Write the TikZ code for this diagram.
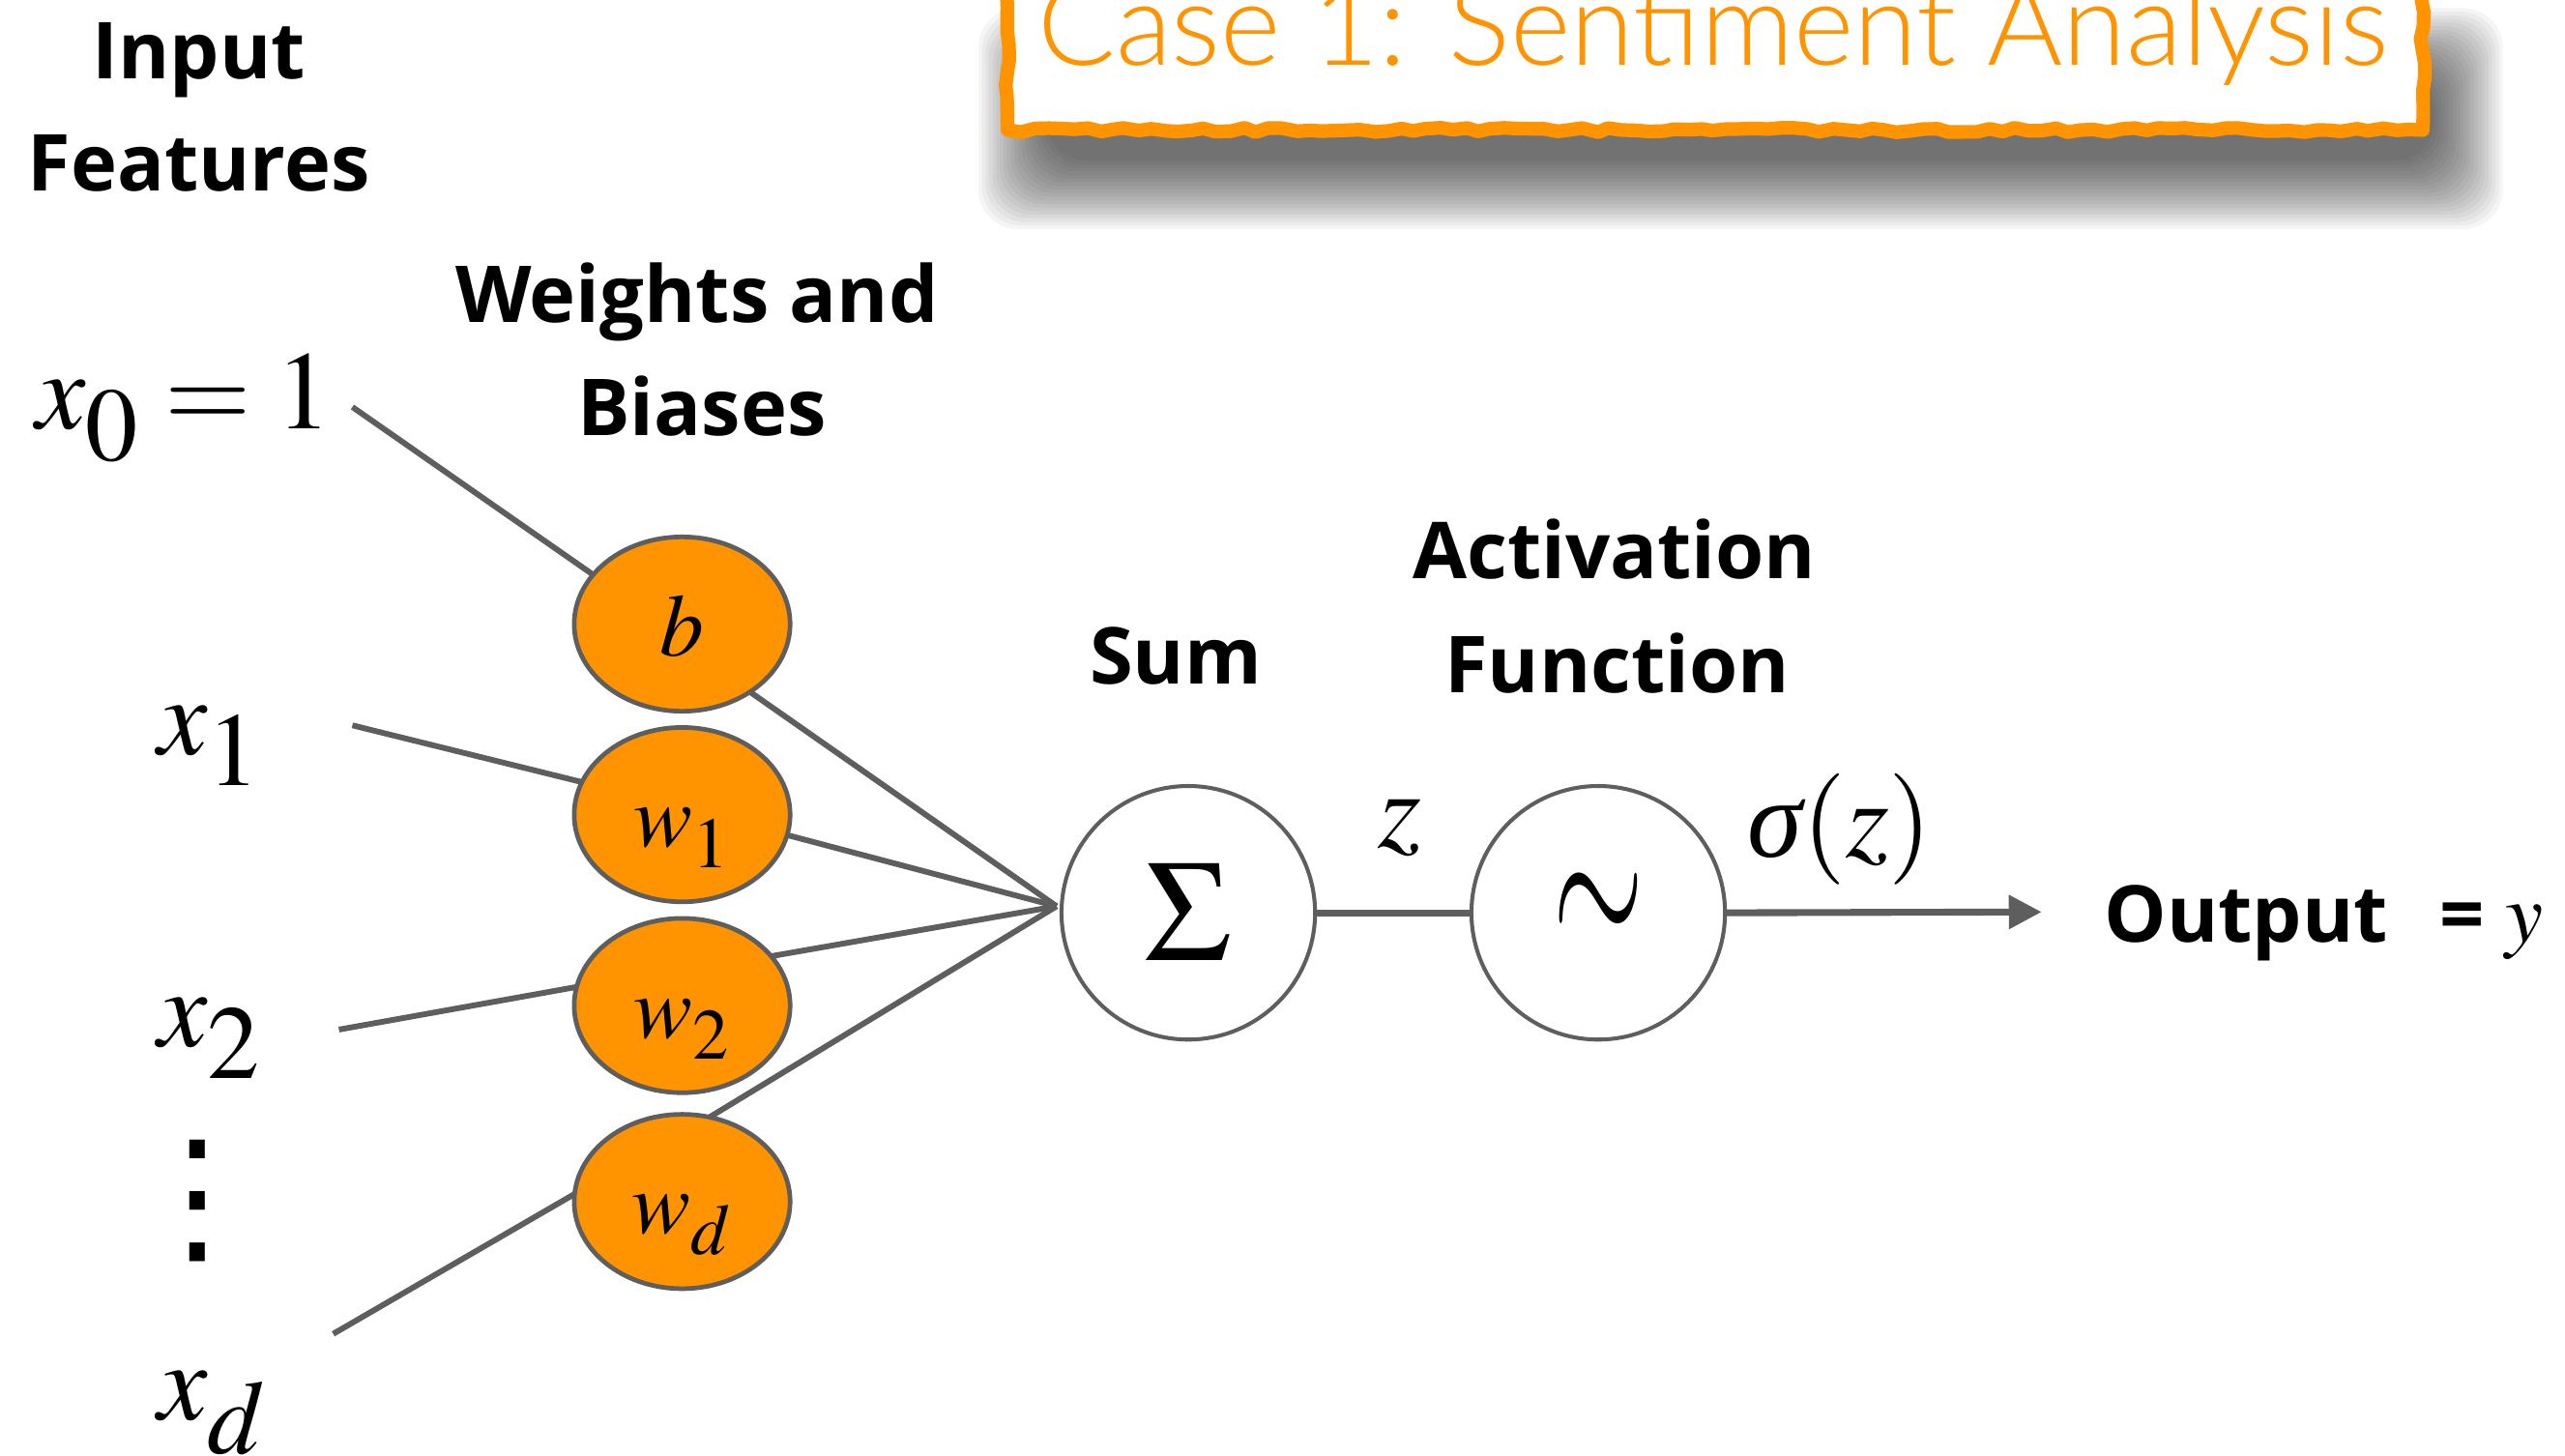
\documentclass[tikz,border=0pt]{standalone}
\usepackage{graphicx}
\usepackage{mathptmx}
\usepackage[no-math]{fontspec}
\setsansfont{Open Sans}
\newfontfamily\titlefont{Lato Light}
\newfontfamily\tnr{Liberation Serif}
\newfontfamily\dotsfont{DejaVu Sans}
\usetikzlibrary{shapes.geometric, arrows.meta, decorations.pathmorphing, calc}

\definecolor{kOrange}{RGB}{255,147,0}
\definecolor{kGray}{RGB}{94,94,94}

% full-size, lowered subscripts for the inputs and weights
\newcommand{\xsub}[1]{_{\lower4.5pt\hbox{\fontsize{32pt}{32pt}\selectfont$#1$}}}
\newcommand{\wsub}[1]{_{\lower2.5pt\hbox{\fontsize{22pt}{22pt}\selectfont$#1$}}}
% italic sigma in a Times-like face
\newcommand{\itsigma}{\mbox{\tnr\itshape σ}}

\begin{document}
\begin{tikzpicture}[x=0.5pt, y=-0.5pt,
  conn/.style={draw=kGray, line width=1.75pt},
  thickconn/.style={draw=kGray, line width=2.1pt},
  weight/.style={ellipse, draw=kGray, line width=1.4pt, fill=kOrange,
    minimum width=66pt, minimum height=53.3pt, inner sep=0pt, outer sep=0pt,
    font=\fontsize{27pt}{30pt}\selectfont, text height=19.5pt, text depth=0pt},
  unit/.style={circle, draw=kGray, line width=1.2pt, fill=white,
    minimum size=77.5pt, inner sep=0pt, outer sep=0pt},
  lbl/.style={font=\sffamily\bfseries\fontsize{24pt}{28pt}\selectfont,
    inner sep=0pt, anchor=base},
  mlbl/.style={font=\fontsize{34pt}{40pt}\selectfont, inner sep=0pt,
    anchor=base west},
  titletext/.style={font=\titlefont\fontsize{35.3pt}{40pt}\selectfont,
    text=kOrange, inner sep=0pt, anchor=base west},
]
\useasboundingbox (0,0) rectangle (1568,890);
\clip (0,0) rectangle (1568,890);

% soft drop shadow under the title card
\foreach \k in {0,...,19}
  \fill[black, opacity=0.04, rounded corners=12pt]
    ({598+2.2*\k}, {5+2.2*\k}) rectangle ({1530-2.2*\k}, {140-2.2*\k});

% title card with a hand-drawn orange border
\fill[white] (616,-60) rectangle (1481,79.5);
\draw[kOrange, line width=4.2pt, line join=round,
      decorate, decoration={random steps, segment length=4pt, amplitude=0.7pt}]
  (616,-60) -- (616,79.5) -- (1481,79.5) -- (1481,-60);
\node[titletext] (title) at (634,40) {Case 1: Sentiment Analysis};

% column headings
\node[lbl] (hin1) at (121.5,48) {Input};
\node[lbl] (hin2) at (121.5,117) {Features};
\node[lbl] (hw1) at (426,197) {Weights and};
\node[lbl] (hw2) at (429,266) {Biases};
\node[lbl] (hsum) at (718.7,418) {Sum};
\node[lbl] (hact1) at (987,354) {Activation};
\node[lbl] (hact2) at (988.6,423.6) {Function};

% inputs
\node[mlbl] (x0) at (22,262) {$x\xsub{0} = 1$};
\node[mlbl] (x1) at (96,461) {$x\xsub{1}$};
\node[mlbl] (x2) at (96,640) {$x\xsub{2}$};
\node[mlbl] (xd) at (96,868) {$x\xsub{d}$};
\node[inner sep=0pt, font=\dotsfont\fontsize{46pt}{46pt}\selectfont] (vd)
  at (120.5,734.3) {⋮};

\coordinate (x0e) at (215.4,248.8);
\coordinate (x1e) at (215.4,443.4);
\coordinate (x2e) at (207.2,629.4);
\coordinate (xde) at (203.7,815.4);

% weights and bias
\node[weight] (b)  at (417,381.5) {$b$};
\node[weight] (w1) at (417,498)   {$w\wsub{1}$};
\node[weight] (w2) at (417,614.7) {$w\wsub{2}$};
\node[weight] (wd) at (417,734.5) {$w\wsub{d}$};

% summation and activation units
\node[unit, font=\fontsize{44pt}{46pt}\selectfont] (sum) at (726.4,558) {$\Sigma$};
\node[unit, font=\fontsize{35pt}{40pt}\selectfont] (act) at (977,558)
  {\scalebox{1.02}[1.9]{$\sim$}};
\coordinate (hub) at ($(sum.west)+(-3,-4)$);

% input connectors
\draw[conn] (x0e) -- (b.151);
\draw[conn] (x1e) -- (w1.162);
\draw[conn] (x2e) -- (w2.170);
\draw[conn] (xde) -- (wd.176.5);

% weighted connectors into the sum
\draw[conn] (b.-45) -- (hub);
\draw[conn] (w1.-11) -- (hub);
\draw[conn] (w2.29) -- (hub);
\draw[conn] (wd.72) -- (hub);

% sum -> activation -> output
\draw[thickconn] (sum.east) -- (act.west);
\coordinate (tip) at (1248,557.5);
\draw[thickconn, -{Triangle[length=10pt,width=10pt]}] (act.east) -- (tip);

\node[mlbl] (zl) at (842,518) {$z$};
\node[mlbl] (sz) at (1068,524) {$\itsigma(z)$};
\node[lbl, anchor=base west] (out) at (1286,576)
  {Output\hspace{16pt}= {\fontsize{26pt}{30pt}\selectfont$y$}};
\end{tikzpicture}
\end{document}
